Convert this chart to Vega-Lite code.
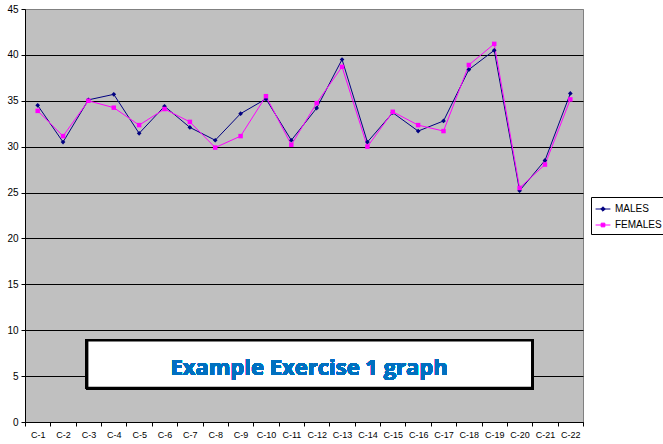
{
  "$schema": "https://vega.github.io/schema/vega-lite/v6.json",
  "autosize": "none",
  "width": 558,
  "height": 413,
  "padding": {"left": 25, "top": 9, "right": 80, "bottom": 22},
  "background": "white",
  "config": {
    "view": {"fill": "#C0C0C0", "stroke": "#808080", "strokeWidth": 1},
    "font": "Liberation Sans"
  },
  "data": {
    "values": [
      {"c": "C-1", "g": "MALES", "v": 34.5}, {"c": "C-2", "g": "MALES", "v": 30.5},
      {"c": "C-3", "g": "MALES", "v": 35.1}, {"c": "C-4", "g": "MALES", "v": 35.7},
      {"c": "C-5", "g": "MALES", "v": 31.45}, {"c": "C-6", "g": "MALES", "v": 34.4},
      {"c": "C-7", "g": "MALES", "v": 32.1}, {"c": "C-8", "g": "MALES", "v": 30.7},
      {"c": "C-9", "g": "MALES", "v": 33.6}, {"c": "C-10", "g": "MALES", "v": 35.2},
      {"c": "C-11", "g": "MALES", "v": 30.7}, {"c": "C-12", "g": "MALES", "v": 34.2},
      {"c": "C-13", "g": "MALES", "v": 39.5}, {"c": "C-14", "g": "MALES", "v": 30.5},
      {"c": "C-15", "g": "MALES", "v": 33.7}, {"c": "C-16", "g": "MALES", "v": 31.7},
      {"c": "C-17", "g": "MALES", "v": 32.8}, {"c": "C-18", "g": "MALES", "v": 38.4},
      {"c": "C-19", "g": "MALES", "v": 40.5}, {"c": "C-20", "g": "MALES", "v": 25.2},
      {"c": "C-21", "g": "MALES", "v": 28.5}, {"c": "C-22", "g": "MALES", "v": 35.8},
      {"c": "C-1", "g": "FEMALES", "v": 33.9}, {"c": "C-2", "g": "FEMALES", "v": 31.15},
      {"c": "C-3", "g": "FEMALES", "v": 35.0}, {"c": "C-4", "g": "FEMALES", "v": 34.25},
      {"c": "C-5", "g": "FEMALES", "v": 32.35}, {"c": "C-6", "g": "FEMALES", "v": 34.1},
      {"c": "C-7", "g": "FEMALES", "v": 32.7}, {"c": "C-8", "g": "FEMALES", "v": 29.9},
      {"c": "C-9", "g": "FEMALES", "v": 31.15}, {"c": "C-10", "g": "FEMALES", "v": 35.5},
      {"c": "C-11", "g": "FEMALES", "v": 30.2}, {"c": "C-12", "g": "FEMALES", "v": 34.75},
      {"c": "C-13", "g": "FEMALES", "v": 38.7}, {"c": "C-14", "g": "FEMALES", "v": 30.0},
      {"c": "C-15", "g": "FEMALES", "v": 33.8}, {"c": "C-16", "g": "FEMALES", "v": 32.35},
      {"c": "C-17", "g": "FEMALES", "v": 31.7}, {"c": "C-18", "g": "FEMALES", "v": 38.9},
      {"c": "C-19", "g": "FEMALES", "v": 41.2}, {"c": "C-20", "g": "FEMALES", "v": 25.5},
      {"c": "C-21", "g": "FEMALES", "v": 28.05}, {"c": "C-22", "g": "FEMALES", "v": 35.15}
    ]
  },
  "resolve": {"scale": {"x": "independent"}, "axis": {"x": "independent"}},
  "layer": [
    {
      "encoding": {
        "x": {
          "field": "c", "type": "nominal", "sort": null,
          "scale": {"type": "band", "paddingInner": 0, "paddingOuter": 0},
          "axis": {
            "title": null, "labelAngle": 0, "labelFontSize": 9, "labelColor": "black",
            "labelFont": "Liberation Sans", "labelPadding": 4,
            "tickBand": "extent", "tickColor": "black", "tickSize": 4,
            "domainColor": "black", "grid": false
          }
        },
        "y": {
          "field": "v", "type": "quantitative",
          "scale": {"domain": [0, 45], "nice": false},
          "axis": {
            "title": null, "values": [0, 5, 10, 15, 20, 25, 30, 35, 40, 45],
            "labelFontSize": 10, "labelColor": "black", "labelFont": "Liberation Sans",
            "labelPadding": 3, "tickColor": "black", "tickSize": 4, "domainColor": "black",
            "grid": true,
            "gridColor": {"condition": {"test": "datum.value == 45", "value": "#808080"}, "value": "black"},
            "gridOpacity": 1, "gridWidth": 1
          }
        }
      },
      "layer": [
        {
          "mark": {"type": "line", "strokeWidth": 1},
          "encoding": {
            "color": {
              "field": "g", "type": "nominal", "sort": ["MALES", "FEMALES"],
              "scale": {"domain": ["MALES", "FEMALES"], "range": ["#000080", "#FF00FF"]},
              "legend": {
                "title": null, "orient": "none", "legendX": 566, "legendY": 188,
                "strokeColor": "black", "fillColor": "white", "padding": 4,
                "labelFontSize": 10, "labelFont": "Liberation Sans", "labelColor": "black",
                "symbolSize": 220, "symbolStrokeWidth": 1, "rowPadding": 3, "labelOffset": 4,
                "encode": {
                  "symbols": {
                    "update": {
                      "shape": {"signal": "datum.value == 'MALES' ? 'M-1,0H1M0,-0.3L0.3,0L0,0.3L-0.3,0Z' : 'M-1,0H1M-0.25,-0.25H0.25V0.25H-0.25Z'"},
                      "fill": {"signal": "datum.value == 'MALES' ? '#000080' : '#FF00FF'"},
                      "stroke": {"signal": "datum.value == 'MALES' ? '#000080' : '#FF00FF'"},
                      "fillOpacity": {"value": 1},
                      "strokeWidth": {"value": 1}
                    }
                  }
                }
              }
            }
          }
        },
        {
          "transform": [{"filter": "datum.g == 'MALES'"}],
          "mark": {"type": "point", "filled": true, "opacity": 1, "size": 22, "shape": "diamond", "color": "#000080"}
        },
        {
          "transform": [{"filter": "datum.g == 'FEMALES'"}],
          "mark": {"type": "point", "filled": true, "opacity": 1, "size": 20, "shape": "square", "color": "#FF00FF"}
        }
      ]
    },
    {
      "mark": {"type": "rect", "fill": "white", "stroke": "black", "strokeWidth": 2.5},
      "encoding": {
        "x": {"datum": 2.45, "type": "quantitative", "scale": {"domain": [0, 22]}, "axis": null},
        "x2": {"datum": 20.0},
        "y": {"datum": 8.9, "type": "quantitative"},
        "y2": {"datum": 3.7}
      }
    },
    {
      "mark": {"type": "text", "text": "Example Exercise 1 graph", "font": "Open Sans", "fontWeight": "bold", "fontSize": 22, "color": "#0070C0", "align": "center", "baseline": "middle"},
      "encoding": {
        "x": {"datum": 11.2, "type": "quantitative", "scale": {"domain": [0, 22]}, "axis": null},
        "y": {"datum": 5.9, "type": "quantitative"}
      }
    }
  ]
}
